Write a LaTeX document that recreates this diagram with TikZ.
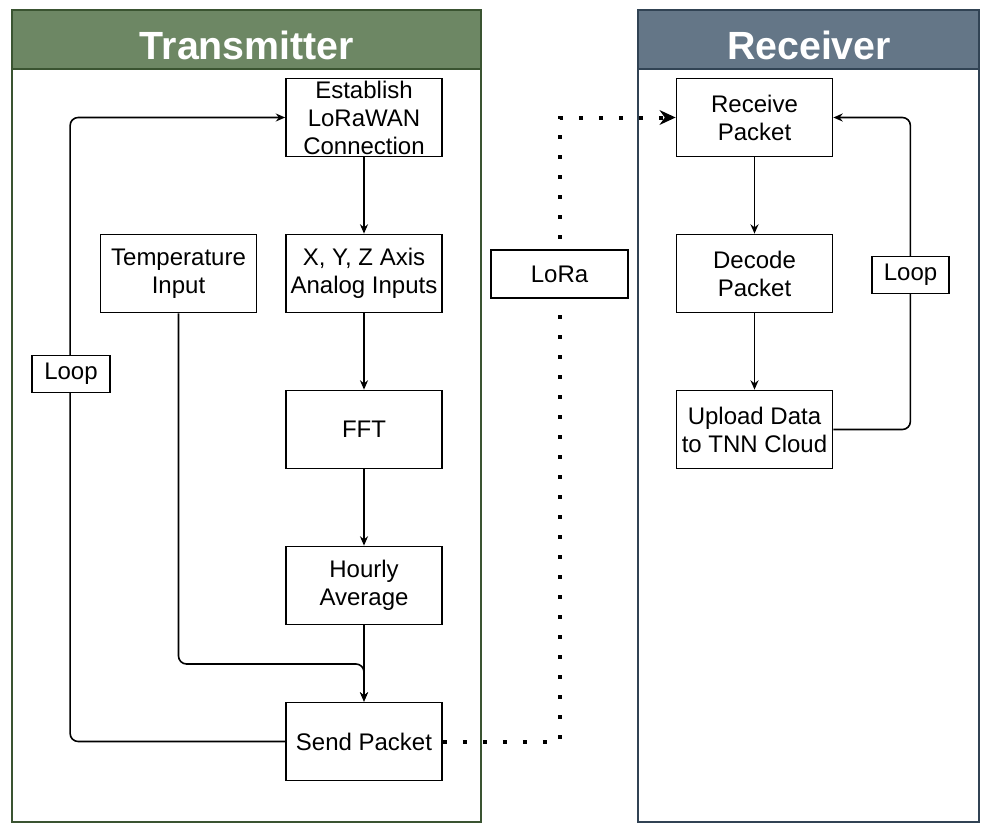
\documentclass[tikz,border=0pt]{standalone}
\usepackage{fontspec}
\setmainfont{Liberation Sans}
\usetikzlibrary{positioning,arrows.meta}

\definecolor{txfill}{HTML}{6D8764}
\definecolor{txline}{HTML}{3A5431}
\definecolor{rxfill}{HTML}{647687}
\definecolor{rxline}{HTML}{314354}

\begin{document}
\begin{tikzpicture}[x=0.75pt, y=-0.75pt, >={Stealth[length=7pt,width=6pt]}, node distance=117pt,
    box/.style={draw, line width=1.3pt, minimum width=117pt, minimum height=58.5pt,
        inner sep=1pt, align=center, font=\fontsize{18}{21}\selectfont},
    tag/.style={draw, line width=1.2pt, fill=white, minimum height=28pt, inner sep=1pt,
        font=\fontsize{18}{21}\selectfont},
    head/.style={text=white, font=\fontsize{29.5}{34}\selectfont\bfseries},
    flow/.style={->, line width=1.2pt, rounded corners=6pt},
    radio/.style={-{Stealth[length=12pt,width=11pt]}, line width=3pt,
        dash pattern=on 3pt off 12pt}]
    \useasboundingbox (0,0) rectangle (992,832);

    % Contenedores
    \draw[txline, line width=1.3pt] (12,69) rectangle (481,822);
    \draw[txline, line width=1.3pt, fill=txfill] (12,10) rectangle (481,69);
    \node[head] (txhead) at (247,45) {Transmitter};
    \draw[rxline, line width=1.3pt] (638,69) rectangle (979,822);
    \draw[rxline, line width=1.3pt, fill=rxfill] (638,10) rectangle (979,69);
    \node[head] (rxhead) at (809,45) {Receiver};

    % Nodos del transmisor
    \node[box] (estab) at (364,117.5) {Establish\\LoRaWAN\\Connection};
    \node[box, below of=estab] (axes) {X, Y, Z Axis\\Analog Inputs};
    \node[box, below of=axes] (fft) {FFT};
    \node[box, below of=fft] (hourly) {Hourly\\Average};
    \node[box, below of=hourly] (send) {Send Packet};
    \node[box] (temp) at (178.5,273.5) {Temperature\\Input};

    % Nodos del receptor
    \node[box] (recv) at (754.5,117.5) {Receive\\Packet};
    \node[box, below of=recv] (decode) {Decode\\Packet};
    \node[box, below of=decode] (upload) {Upload Data\\to TNN Cloud};

    % Aristas
    \draw[flow] (estab) -- (axes);
    \draw[flow] (axes) -- (fft);
    \draw[flow] (fft) -- (hourly);
    \draw[flow] (hourly) -- (send);
    \draw[flow] (temp.south) |- (364,664) -- (send.north);
    \draw[flow] (send.west) -- ++(-215,0) |- (estab.west);
    \draw[flow] (recv) -- (decode);
    \draw[flow] (decode) -- (upload);
    \draw[flow] (upload.east) -- ++(77,0) |- (recv.east);
    \draw[radio] (send.east) -- ++(117,0) |- (recv.west);

    % Etiquetas
    \node[tag, minimum width=58.5pt] (loopl) at (71,374) {Loop};
    \node[tag, minimum width=58pt] (loopr) at (910.5,275) {Loop};
    \node[tag, minimum width=103pt, minimum height=36pt] (lora) at (559.5,274) {LoRa};
\end{tikzpicture}
\end{document}
